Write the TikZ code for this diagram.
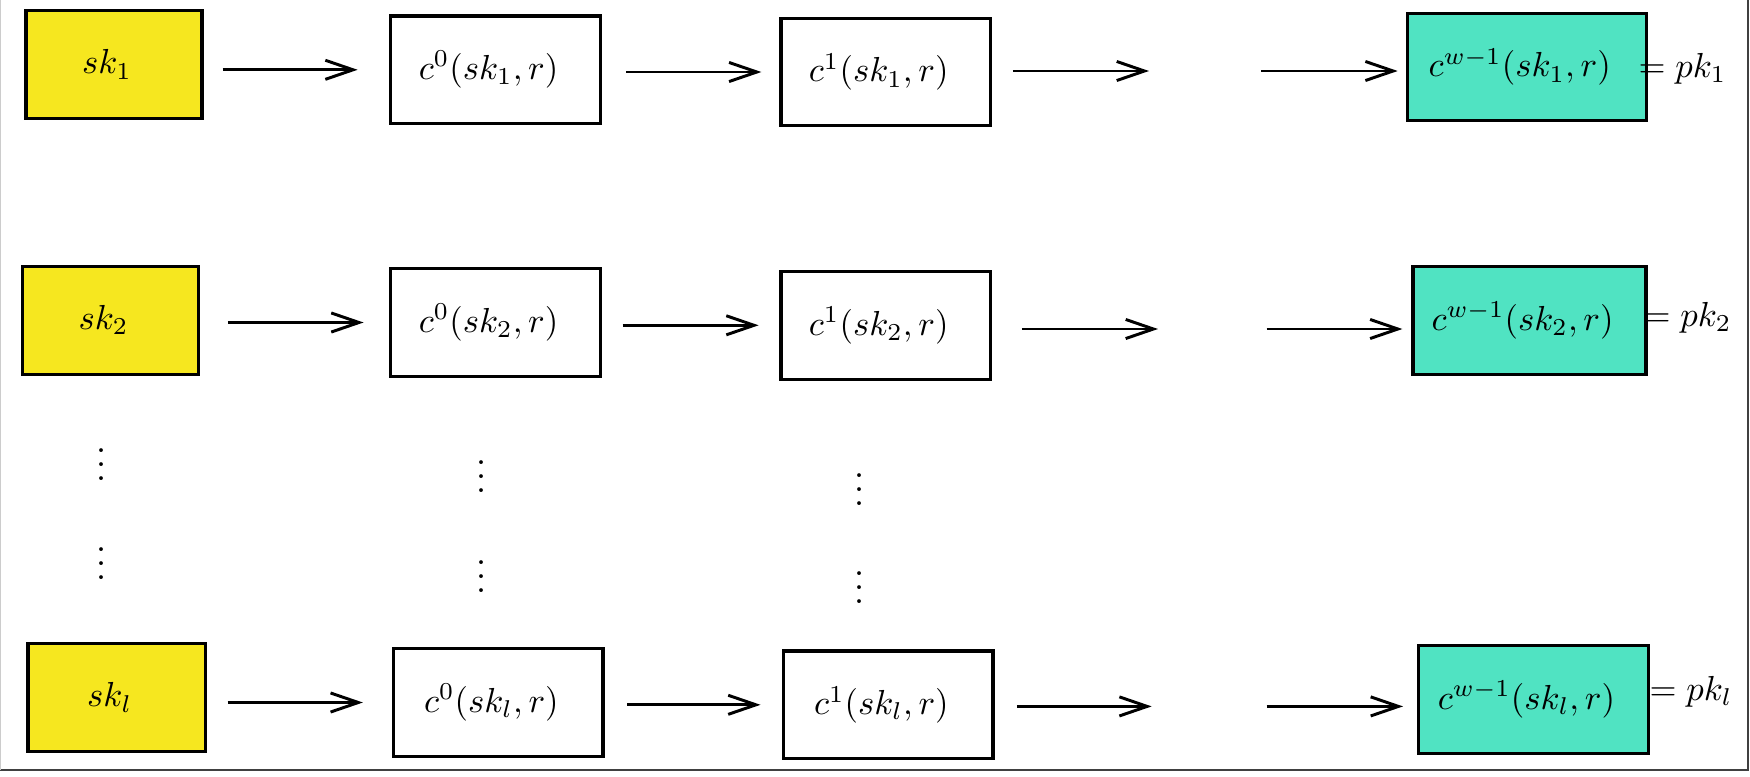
\documentclass[tikz,border=0pt]{standalone}
\usetikzlibrary{arrows.meta}
\definecolor{skyellow}{HTML}{F6E71F}
\definecolor{pkteal}{HTML}{50E3C2}
\tikzset{
  box/.style={draw=black, line width=0.9pt, minimum height=31pt, inner sep=0pt, fill=white,
    font=\fontsize{10.4pt}{12pt}\selectfont, execute at end node={\hspace{4pt}}},
  skbox/.style={box, fill=skyellow, minimum width=50.7pt},
  cbox/.style={box, minimum width=60.3pt},
  wbox/.style={box, fill=pkteal},
  arr/.style={line width=0.85pt, -{Straight Barb[length=8pt,width=5.5pt,line width=0.85pt]}},
  pklabel/.style={anchor=west, inner sep=0pt, font=\fontsize{10.4pt}{12pt}\selectfont},
  dotsnode/.style={inner sep=0pt, font=\fontsize{10.4pt}{12pt}\selectfont},
  frameline/.style={line width=0.6pt, draw=black!75}
}
\begin{document}
\begin{tikzpicture}[x=0.288pt, y=-0.288pt]
\useasboundingbox (0,0) rectangle (1750,776);
% frame
\draw[frameline] (1748,0) -- (1748,770) -- (0,770);
\draw[line width=0.5pt, draw=black!20] (0.5,0) -- (0.5,770);

% row 1
\node[skbox] (sk1) at (114,64.5) {$sk_1$};
\node[cbox] (c01) at (495.5,69.8) {$c^0(sk_1,r)$};
\node[cbox] (c11) at (885.7,72) {$c^1(sk_1,r)$};
\node[wbox, minimum width=68.8pt] (cw1) at (1526.7,67) {$c^{w-1}(sk_1,r)$};
\node[pklabel] (pk1) at (1638,69) {$= pk_1$};
\coordinate (g1a) at (1149,71);
\coordinate (g1b) at (1261,71);
\draw[arr, shorten <=5.5pt, shorten >=9.1pt] (sk1.east |- c01) -- (c01);
\draw[arr, shorten <=7.1pt, shorten >=5.2pt] (c01.east |- c11) -- (c11);
\draw[arr, shorten <=6pt] (c11.east |- g1a) -- (g1a);
\draw[arr, shorten >=2.3pt] (g1b) -- (cw1.west |- g1b);

% row 2
\node[skbox] (sk2) at (110.5,320.3) {$sk_2$};
\node[cbox] (c02) at (495.5,322.5) {$c^0(sk_2,r)$};
\node[cbox] (c12) at (885.7,325.3) {$c^1(sk_2,r)$};
\node[wbox, minimum width=67.1pt] (cw2) at (1529.5,320.3) {$c^{w-1}(sk_2,r)$};
\node[pklabel] (pk2) at (1643,318) {$= pk_2$};
\coordinate (g2a) at (1158,329);
\coordinate (g2b) at (1266.7,329);
\draw[arr, shorten <=8pt, shorten >=7.4pt] (sk2.east |- c02) -- (c02);
\draw[arr, shorten <=6pt, shorten >=6pt] (c02.east |- c12) -- (c12);
\draw[arr, shorten <=8.6pt] (c12.east |- g2a) -- (g2a);
\draw[arr, shorten >=2.6pt] (g2b) -- (cw2.west |- g2b);

% row 3
\node[skbox, minimum width=51pt] (skl) at (116.6,697.5) {$sk_l$};
\node[cbox] (c0l) at (498.3,702.5) {$c^0(sk_l,r)$};
\node[cbox] (c1l) at (888.3,704.8) {$c^1(sk_l,r)$};
\node[wbox, minimum width=66.2pt] (cwl) at (1533.4,699.7) {$c^{w-1}(sk_l,r)$};
\node[pklabel] (pkl) at (1649,692) {$= pk_l$};
\coordinate (g3a) at (1151.7,706.4);
\coordinate (g3b) at (1266.7,706.4);
\draw[arr, shorten <=6pt, shorten >=8.4pt] (skl.east |- c0l) -- (c0l);
\draw[arr, shorten <=6.5pt, shorten >=6.2pt] (c0l.east |- c1l) -- (c1l);
\draw[arr, shorten <=6.4pt] (c1l.east |- g3a) -- (g3a);
\draw[arr, shorten >=4pt] (g3b) -- (cwl.west |- g3b);

% vertical dots
\node[dotsnode] (d1a) at (101.6,454) {$\vdots$};
\node[dotsnode] (d1b) at (101.6,553) {$\vdots$};
\node[dotsnode] (d2a) at (482,466) {$\vdots$};
\node[dotsnode] (d2b) at (482,566) {$\vdots$};
\node[dotsnode] (d3a) at (859.3,479) {$\vdots$};
\node[dotsnode] (d3b) at (859.3,577) {$\vdots$};
\end{tikzpicture}
\end{document}
